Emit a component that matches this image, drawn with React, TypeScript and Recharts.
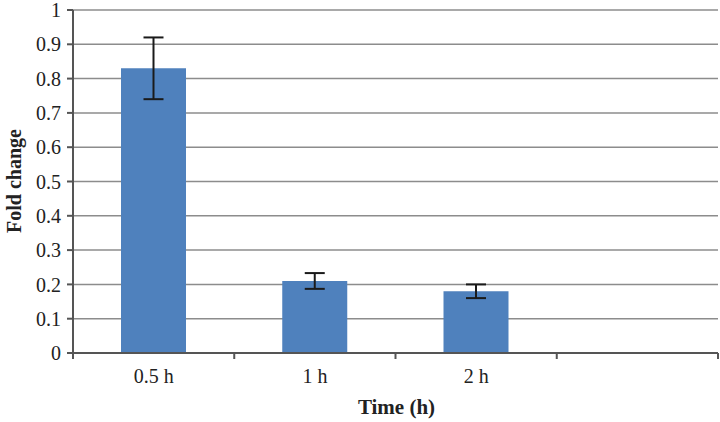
import React from 'react';
import { BarChart, Bar, XAxis, YAxis, CartesianGrid, ErrorBar } from 'recharts';

const categories = ['0.5 h', '1 h', '2 h', ''];
const foldChange: (number | null)[] = [0.83, 0.21, 0.18, null];
const errors: (number | null)[] = [0.09, 0.023, 0.02, null];
const yTicks = [0, 0.1, 0.2, 0.3, 0.4, 0.5, 0.6, 0.7, 0.8, 0.9, 1];

const data = categories.map((c, i) => ({ time: c, value: foldChange[i], err: errors[i] }));

const W = 720;
const H = 422;
const M = { top: 10, right: 2, left: 0, bottom: 0 };
const Y_W = 73;
const X_H = 69;
const PLOT_BOTTOM = H - M.bottom - X_H;
const BAND = (W - M.left - M.right - Y_W) / categories.length;
const FONT = '"Liberation Serif", "Times New Roman", serif';
const TEXT = '#222222';
const AXIS = '#555555';

const XTick = (props: any) => {
  const { x, payload, index } = props;
  const left = x - BAND / 2;
  const right = x + BAND / 2;
  return (
    <g>
      <line x1={left} y1={PLOT_BOTTOM} x2={left} y2={PLOT_BOTTOM + 6} stroke={AXIS} strokeWidth={2} />
      {index === categories.length - 1 && (
        <line x1={right} y1={PLOT_BOTTOM} x2={right} y2={PLOT_BOTTOM + 6} stroke={AXIS} strokeWidth={2} />
      )}
      <text x={x} y={PLOT_BOTTOM + 23} textAnchor="middle" dominantBaseline="central" fontFamily={FONT} fontSize={20} fill={TEXT}>
        {payload.value}
      </text>
    </g>
  );
};

export default function App() {
  return (
    <div style={{ position: 'fixed', left: 0, top: 0, width: W, height: H, background: '#fff' }}>
      <BarChart width={W} height={H} data={data} margin={M} barSize={65}>
        <CartesianGrid vertical={false} stroke="#8c8c8c" strokeWidth={1.5} />
        <XAxis
          dataKey="time"
          height={X_H}
          tick={<XTick />}
          tickLine={false}
          axisLine={{ stroke: AXIS, strokeWidth: 2 }}
          interval={0}
          label={{
            content: () => (
              <text x={(M.left + Y_W + W - M.right) / 2 + 1} y={PLOT_BOTTOM + 54} textAnchor="middle" dominantBaseline="central" fontFamily={FONT} fontSize={21} fontWeight="bold" fill={TEXT}>
                Time (h)
              </text>
            ),
          }}
        />
        <YAxis
          width={Y_W}
          domain={[0, 1]}
          ticks={yTicks}
          interval={0}
          tickSize={6}
          tickMargin={6}
          tick={{ fontFamily: FONT, fontSize: 20, fill: TEXT }}
          tickLine={{ stroke: AXIS, strokeWidth: 2 }}
          axisLine={{ stroke: AXIS, strokeWidth: 2 }}
          tickFormatter={(v: number) => String(v)}
          label={{
            content: () => (
              <text x={14} y={181} transform="rotate(-90, 14, 181)" textAnchor="middle" dominantBaseline="central" fontFamily={FONT} fontSize={20} fontWeight="bold" fill={TEXT}>
                Fold change
              </text>
            ),
          }}
        />
        <Bar dataKey="value" fill="#4f81bd" isAnimationActive={false}>
          <ErrorBar dataKey="err" width={10} stroke="#1a1a1a" strokeWidth={2} direction="y" />
        </Bar>
      </BarChart>
    </div>
  );
}
